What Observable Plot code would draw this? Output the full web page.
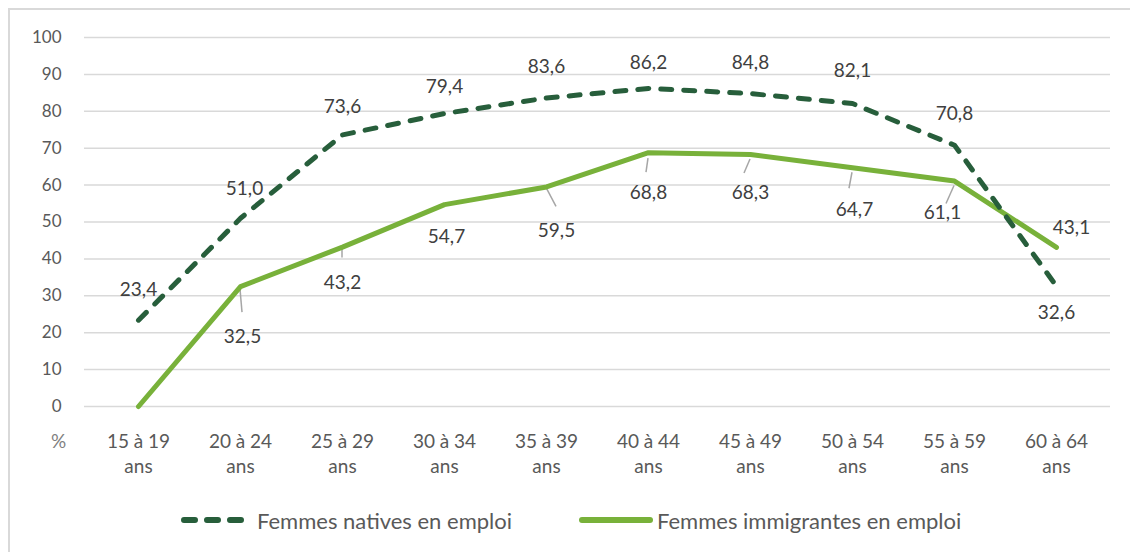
<!DOCTYPE html>
<html>
<head>
<meta charset="utf-8">
<script src="https://cdn.jsdelivr.net/npm/d3@7"></script>
<script src="https://cdn.jsdelivr.net/npm/@observablehq/plot@0.6"></script>
<style>
  html, body { margin: 0; padding: 0; background: #fff; }
  body { width: 1130px; height: 552px; overflow: hidden; position: relative; font-family: Lato, "Open Sans", sans-serif; }
  #frame { position: absolute; left: 8px; top: 8px; width: 1140px; height: 560px; border: 2px solid #d9d9d9; box-sizing: border-box; }
  #chart { position: absolute; left: 0; top: 0; }
  #legend { position: absolute; left: 0; top: 504px; width: 1130px; height: 32px; font-size: 22px; color: #595959; }
  .item { position: absolute; top: 0; display: flex; align-items: center; height: 32px; white-space: nowrap; }
</style>
</head>
<body>
<div id="frame"></div>
<div id="chart"></div>
<div id="legend"></div>
<script>
const categories = ["15 à 19 ans", "20 à 24 ans", "25 à 29 ans", "30 à 34 ans", "35 à 39 ans",
                    "40 à 44 ans", "45 à 49 ans", "50 à 54 ans", "55 à 59 ans", "60 à 64 ans"];
const natives = [23.4, 51.0, 73.6, 79.4, 83.6, 86.2, 84.8, 82.1, 70.8, 32.6];
const immigrants = [0, 32.5, 43.2, 54.7, 59.5, 68.8, 68.3, 64.7, 61.1, 43.1];
const yTicks = [0, 10, 20, 30, 40, 50, 60, 70, 80, 90, 100];
const seriesNames = ["Femmes natives en emploi", "Femmes immigrantes en emploi"];

// label placement offsets (pixels) relative to each point; null = no label
const nativeLabelOffset = [[0,-30],[4,-29],[0,-28],[0,-27],[0,-31],[0,-26],[0,-31],[0,-33],[0,-31],[0,27]];
const immLabelOffset = [null,[2,50],[0,36],[2,32],[10,44],[0,40],[0,38],[2,42],[-12,32],[15,-20]];
// leader lines: [index, start offset, end offset]
const immLeaders = [
  [1, [0,3], [2,26]],
  [2, [0,0], [0,11]],
  [4, [0,1], [10,20]],
  [5, [0,6], [-2,20]],
  [6, [0,5], [-6,19]],
  [7, [0,5], [-3,21]],
  [8, [0,5], [-8,23]]
];

const fmt = v => v.toFixed(1).replace(".", ",");
const darkGreen = "#275e3b";
const lightGreen = "#78b13a";
const textColor = "#404040";
const labelFont = 19;

function leaders(index, scales) {
  const g = d3.create("svg:g").attr("stroke", "#a6a6a6").attr("stroke-width", 1.5);
  for (const [i, a, b] of immLeaders) {
    const px = scales.x(categories[i]);
    const py = scales.y(immigrants[i]);
    g.append("line").attr("x1", px + a[0]).attr("y1", py + a[1]).attr("x2", px + b[0]).attr("y2", py + b[1]);
  }
  return g.node();
}

const labelMarks = [];
categories.forEach((c, i) => {
  const o = nativeLabelOffset[i];
  if (o) labelMarks.push(Plot.text([{cat: c, v: natives[i]}], {x: "cat", y: "v", text: d => fmt(d.v), dx: o[0], dy: o[1], fontSize: labelFont, fill: textColor}));
  const p = immLabelOffset[i];
  if (p) labelMarks.push(Plot.text([{cat: c, v: immigrants[i]}], {x: "cat", y: "v", text: d => fmt(d.v), dx: p[0], dy: p[1], fontSize: labelFont, fill: textColor}));
});

const chart = Plot.plot({
  width: 1130,
  height: 490,
  marginLeft: 84,
  marginRight: 20,
  marginTop: 37,
  marginBottom: 84,
  style: {fontFamily: "Lato, 'Open Sans', sans-serif", background: "transparent", overflow: "visible"},
  x: {type: "point", domain: categories, padding: 0.5, label: null},
  y: {domain: [0, 100], label: null},
  marks: [
    Plot.ruleY(yTicks, {stroke: "#d9d9d9", strokeWidth: 1.5}),
    Plot.axisY({ticks: yTicks, tickSize: 0, tickPadding: 23, fontSize: 17, fill: "#595959", label: null, tickFormat: d => String(d)}),
    Plot.axisX({tickSize: 0, tickPadding: 24, fontSize: 19, lineHeight: 1.3, fill: "#595959", label: null,
                tickFormat: d => d.replace(" ans", "\nans")}),
    Plot.text(["%"], {x: () => categories[0], y: () => 0, dx: -80, dy: 35, fontSize: 19, fill: "#7f7f7f"}),
    leaders,
    Plot.line(categories, {x: d => d, y: (d, i) => immigrants[i], stroke: lightGreen, strokeWidth: 5, strokeLinejoin: "round", strokeLinecap: "round"}),
    Plot.line(categories, {x: d => d, y: (d, i) => natives[i], stroke: darkGreen, strokeWidth: 5, strokeDasharray: "11,12", strokeLinecap: "round", strokeLinejoin: "round"}),
    ...labelMarks
  ]
});
document.getElementById("chart").appendChild(chart);

// legend
const legend = document.getElementById("legend");
const items = [
  {name: seriesNames[0], color: darkGreen, dash: "11,12", left: 181, w: 72},
  {name: seriesNames[1], color: lightGreen, dash: null, left: 579, w: 74}
];
for (const it of items) {
  const div = document.createElement("div");
  div.className = "item";
  div.style.left = it.left + "px";
  const sw = d3.create("svg").attr("width", it.w + 4).attr("height", 12);
  sw.append("line").attr("x1", 3).attr("x2", it.w - 3).attr("y1", 6).attr("y2", 6)
    .attr("stroke", it.color).attr("stroke-width", 6).attr("stroke-linecap", "round")
    .attr("stroke-dasharray", it.dash);
  div.appendChild(sw.node());
  const span = document.createElement("span");
  span.textContent = it.name;
  div.appendChild(span);
  legend.appendChild(div);
}
</script>
</body>
</html>
